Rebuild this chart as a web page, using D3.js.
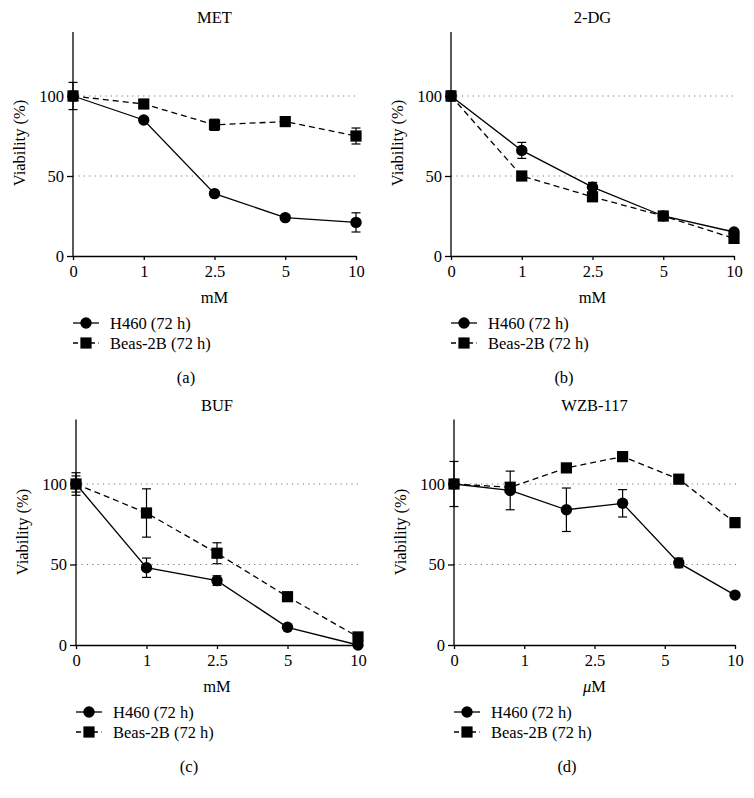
<!DOCTYPE html>
<html><head><meta charset="utf-8">
<script src="https://cdn.jsdelivr.net/npm/d3@7"></script>
<style>body{margin:0;background:#fff}svg{display:block}</style>
</head><body><div id="c"></div>
<script>
// ---- data ----
const titles = ["MET", "2-DG", "BUF", "WZB-117"];
const panelLetters = ["(a)", "(b)", "(c)", "(d)"];
const xUnits = ["mM", "mM", "mM", "\u03bcM"];
const tickLabels = ["0", "1", "2.5", "5", "10"];
const tickIdx = [0, 1, 2, 3, 4];
const yTicks = [0, 50, 100];
const seriesNames = ["H460 (72 h)", "Beas-2B (72 h)"];

const xStd = [0, 1, 2, 3, 4];
const xWzb = [0, 0.8, 1.6, 2.4, 3.2, 4];

const metH460 = [100, 85, 39, 24, 21];
const metH460Err = [8.5, 1, 1.5, 1, 6];
const metBeas = [100, 95, 82, 84, 75];
const metBeasErr = [3, 1, 3.5, 1, 5];

const dgH460 = [100, 66, 43, 25, 15];
const dgH460Err = [3, 5, 3, 1, 1];
const dgBeas = [100, 50, 37, 25, 11];
const dgBeasErr = [3, 1, 1, 1, 1];

const bufH460 = [100, 48, 40, 11, 0];
const bufH460Err = [5, 6, 3, 1, 0.5];
const bufBeas = [100, 82, 57, 30, 5];
const bufBeasErr = [7, 15, 6.5, 1, 1];

const wzbH460 = [100, 96, 84, 88, 51, 31];
const wzbH460Err = [14, 12, 13.5, 8.5, 3, 1];
const wzbBeas = [100, 98, 110, 117, 103, 76];
const wzbBeasErr = [2, 1, 1, 1, 1, 1];

const panels = [
  {x: xStd, h: metH460, he: metH460Err, b: metBeas, be: metBeasErr},
  {x: xStd, h: dgH460, he: dgH460Err, b: dgBeas, be: dgBeasErr},
  {x: xStd, h: bufH460, he: bufH460Err, b: bufBeas, be: bufBeasErr},
  {x: xWzb, h: wzbH460, he: wzbH460Err, b: wzbBeas, be: wzbBeasErr}
];
// layout (pixel geometry)
const geo = [
  {x0: 73, x1: 356, y0: 256, y100: 96},
  {x0: 451, x1: 734, y0: 256, y100: 96},
  {x0: 76, x1: 358, y0: 645, y100: 484},
  {x0: 454, x1: 735, y0: 645, y100: 484}
];
const FONT = '"Liberation Serif"';
const FS = "16.5px";

const svg = d3.select("#c").append("svg").attr("width", 754).attr("height", 798)
  .style("font-family", FONT);
svg.append("rect").attr("width", 754).attr("height", 798).attr("fill", "#fff");

function txt(sel) { return sel.style("font-family", FONT).style("font-size", FS).attr("fill", "#000"); }

panels.forEach((p, i) => {
  const g = geo[i];
  const x = d3.scaleLinear().domain([0, 4]).range([g.x0, g.x1]);
  const y = d3.scaleLinear().domain([0, 100]).range([g.y0, g.y100]);
  const G = svg.append("g");

  [50, 100].forEach(v => {
    G.append("line").attr("x1", x(0)).attr("x2", x(4) + 3)
      .attr("y1", y(v)).attr("y2", y(v))
      .attr("stroke", "#777").attr("stroke-width", 1.1).attr("stroke-dasharray", "1.2,4.2");
  });

  const xa = G.append("g").attr("transform", `translate(0,${g.y0})`)
    .call(d3.axisBottom(x).tickValues(tickIdx).tickFormat((d, k) => tickLabels[k]).tickSize(4).tickSizeOuter(0).tickPadding(5));
  const ya = G.append("g").attr("transform", `translate(${g.x0},0)`)
    .call(d3.axisLeft(y).tickValues(yTicks).tickSize(6).tickSizeOuter(0).tickPadding(3));
  ya.select(".domain").attr("d", `M0,${y(0)}V${y(140)}`);
  [xa, ya].forEach(a => {
    a.attr("font-family", null).attr("font-size", null);
    a.selectAll("path,line").attr("stroke", "#000").attr("stroke-width", 1.3);
    txt(a.selectAll("text"));
  });

  const cx = (g.x0 + g.x1) / 2;
  txt(G.append("text")).attr("x", cx).attr("y", g.y100 - 73).attr("text-anchor", "middle").text(titles[i]);
  txt(G.append("text")).attr("transform", `translate(${g.x0 - 48},${g.y0 - 113}) rotate(-90)`)
    .attr("text-anchor", "middle").text("Viability (%)");
  const xl = txt(G.append("text")).attr("x", cx).attr("y", g.y0 + 47).attr("text-anchor", "middle");
  if (i === 3) {
    xl.append("tspan").style("font-style", "italic").text("\u03bc");
    xl.append("tspan").text("M");
  } else xl.text(xUnits[i]);

  const series = [
    {v: p.h, e: p.he, dash: null, shape: "c"},
    {v: p.b, e: p.be, dash: "6,4", shape: "s"}
  ];
  const line = d3.line().x(d => x(d[0])).y(d => y(d[1]));
  series.forEach(s => {
    const pts = p.x.map((xv, k) => [xv, s.v[k], s.e[k]]);
    G.append("path").attr("d", line(pts)).attr("fill", "none").attr("stroke", "#000")
      .attr("stroke-width", 1.3).attr("stroke-dasharray", s.dash);
  });
  series.forEach(s => {
    const pts = p.x.map((xv, k) => [xv, s.v[k], s.e[k]]);
    pts.forEach(d => {
      if (d[2] > 2) {
        const xx = x(d[0]);
        G.append("line").attr("x1", xx).attr("x2", xx).attr("y1", y(d[1] - d[2])).attr("y2", y(d[1] + d[2]))
          .attr("stroke", "#000").attr("stroke-width", 1.2);
        [d[1] - d[2], d[1] + d[2]].forEach(v => G.append("line").attr("x1", xx - 4.5).attr("x2", xx + 4.5)
          .attr("y1", y(v)).attr("y2", y(v)).attr("stroke", "#000").attr("stroke-width", 1.2));
      }
    });
  });
  series.forEach(s => {
    const pts = p.x.map((xv, k) => [xv, s.v[k]]);
    pts.forEach(d => {
      if (s.shape === "c") G.append("circle").attr("cx", x(d[0])).attr("cy", y(d[1])).attr("r", 5.7).attr("fill", "#000");
      else G.append("rect").attr("x", x(d[0]) - 5.6).attr("y", y(d[1]) - 5.6).attr("width", 11.2).attr("height", 11.2).attr("fill", "#000");
    });
  });

  const lx = g.x0, ly = g.y0 + 67;
  series.forEach((s, k) => {
    const yy = ly + k * 20;
    G.append("line").attr("x1", lx).attr("x2", lx + 26).attr("y1", yy).attr("y2", yy)
      .attr("stroke", "#000").attr("stroke-width", 1.3).attr("stroke-dasharray", s.dash ? "5,3.5" : null);
    if (s.shape === "c") G.append("circle").attr("cx", lx + 13).attr("cy", yy).attr("r", 5.7).attr("fill", "#000");
    else G.append("rect").attr("x", lx + 7.4).attr("y", yy - 5.6).attr("width", 11.2).attr("height", 11.2).attr("fill", "#000");
    txt(G.append("text")).attr("x", lx + 37).attr("y", yy + 5.5).text(seriesNames[k]);
  });
  txt(G.append("text")).attr("x", g.x0 + 113).attr("y", g.y0 + 127).attr("text-anchor", "middle").text(panelLetters[i]);
});
</script></body></html>
